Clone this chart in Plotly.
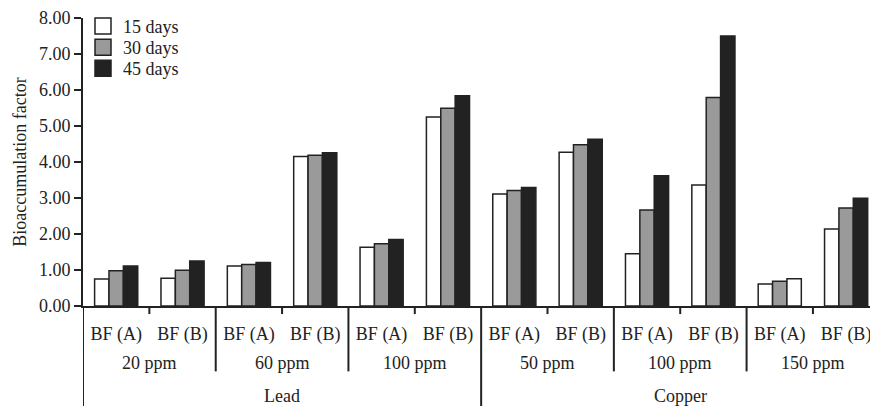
import plotly.graph_objects as go

# ---- data ----
metals = ["Lead", "Copper"]
concentrations = {"Lead": ["20 ppm", "60 ppm", "100 ppm"],
                  "Copper": ["50 ppm", "100 ppm", "150 ppm"]}
bf_labels = ["BF (A)", "BF (B)"]
series_names = ["15 days", "30 days", "45 days"]

days15 = [0.75, 0.77, 1.11, 4.15, 1.63, 5.25, 3.11, 4.27, 1.45, 3.36, 0.61, 2.14]
days30 = [0.98, 0.99, 1.15, 4.19, 1.73, 5.49, 3.21, 4.48, 2.67, 5.79, 0.69, 2.72]
days45 = [1.11, 1.25, 1.21, 4.26, 1.85, 5.84, 3.29, 4.63, 3.62, 7.50, 0.76, 2.99]

series_colors = ["#ffffff", "#9a9a9a", "#222222"]
# the 150 ppm BF (A) 45-day bar is drawn unfilled in the original figure
days45_colors = ["#222222"] * 10 + ["#ffffff", "#222222"]

# ---- build categories ----
cats, ticktext = [], []
for m in metals:
    for c in concentrations[m]:
        for b in bf_labels:
            cats.append(f"{m}|{c}|{b}")
            ticktext.append(b)

FONT = "Liberation Serif, Times New Roman, serif"
fig = go.Figure()
values = [days15, days30, days45]
colors = [series_colors[0], series_colors[1], days45_colors]
for name, vals, col in zip(series_names, values, colors):
    fig.add_trace(go.Bar(x=cats, y=vals, name=name, showlegend=False,
                         marker=dict(color=col, line=dict(color="#222222", width=1.5))))

legend_ids = ["legend", "legend2", "legend3"]
legend_y = [1.035, 0.962, 0.889]
for name, col, lid in zip(series_names, series_colors, legend_ids):
    fig.add_trace(go.Scatter(x=[None], y=[None], mode="markers", name=name, legend=lid,
                             marker=dict(symbol="square", size=16, color=col,
                                         line=dict(color="#222222", width=1.5))))

# ---- multi-level axis decorations ----
shapes, annots = [], []
line = dict(color="#222222", width=2)
n_bf = len(bf_labels)
idx = 0
for mi, m in enumerate(metals):
    m_start = idx
    for ci, c in enumerate(concentrations[m]):
        g_start = idx
        # short tick between BF (A) and BF (B)
        for k in range(1, n_bf):
            shapes.append(dict(type="line", xref="x", yref="paper",
                               x0=g_start + k - 0.5, x1=g_start + k - 0.5,
                               y0=0, y1=-0.028, line=line))
        annots.append(dict(text=c, xref="x", yref="paper",
                           x=g_start + (n_bf - 1) / 2, y=-0.199,
                           showarrow=False, yanchor="middle",
                           font=dict(family=FONT, size=18, color="#222222")))
        idx += n_bf
        if ci < len(concentrations[m]) - 1:
            shapes.append(dict(type="line", xref="x", yref="paper",
                               x0=idx - 0.5, x1=idx - 0.5, y0=0, y1=-0.227, line=line))
    annots.append(dict(text=m, xref="x", yref="paper",
                       x=(m_start + idx - 1) / 2, y=-0.312,
                       showarrow=False, yanchor="middle",
                       font=dict(family=FONT, size=18, color="#222222")))
    shapes.append(dict(type="line", xref="x", yref="paper",
                       x0=m_start - 0.5, x1=m_start - 0.5, y0=0, y1=-0.4, line=line))

legend_common = dict(x=0.0, xanchor="left", yanchor="top",
                     font=dict(family=FONT, size=18, color="#222222"),
                     bgcolor="rgba(0,0,0,0)")
legends = {lid: dict(y=ly, **legend_common) for lid, ly in zip(legend_ids, legend_y)}

fig.update_layout(
    width=870, height=406,
    margin=dict(l=83, r=0, t=18, b=100),
    paper_bgcolor="white", plot_bgcolor="white",
    barmode="group", bargap=0.35, bargroupgap=0,
    font=dict(family=FONT, size=18, color="#222222"),
    shapes=shapes, annotations=annots,
    xaxis=dict(type="category", categoryorder="array", categoryarray=cats,
               range=[-0.5, 11.36], tickmode="array", tickvals=cats, ticktext=ticktext,
               showline=True, linecolor="#222222", linewidth=2,
               ticks="outside", ticklen=10, tickcolor="rgba(0,0,0,0)",
               tickfont=dict(family=FONT, size=18, color="#222222"),
               showgrid=False, zeroline=False, fixedrange=True),
    yaxis=dict(range=[0, 8], dtick=1, tickformat=".2f",
               showline=True, linecolor="#222222", linewidth=2,
               ticks="outside", ticklen=7, tickwidth=2, tickcolor="#222222",
               tickfont=dict(family=FONT, size=18, color="#222222"),
               showgrid=False, zeroline=False,
               title=dict(text="Bioaccumulation factor", standoff=8,
                          font=dict(family=FONT, size=18, color="#222222"))),
    **legends,
)

fig.write_html("out.html")
